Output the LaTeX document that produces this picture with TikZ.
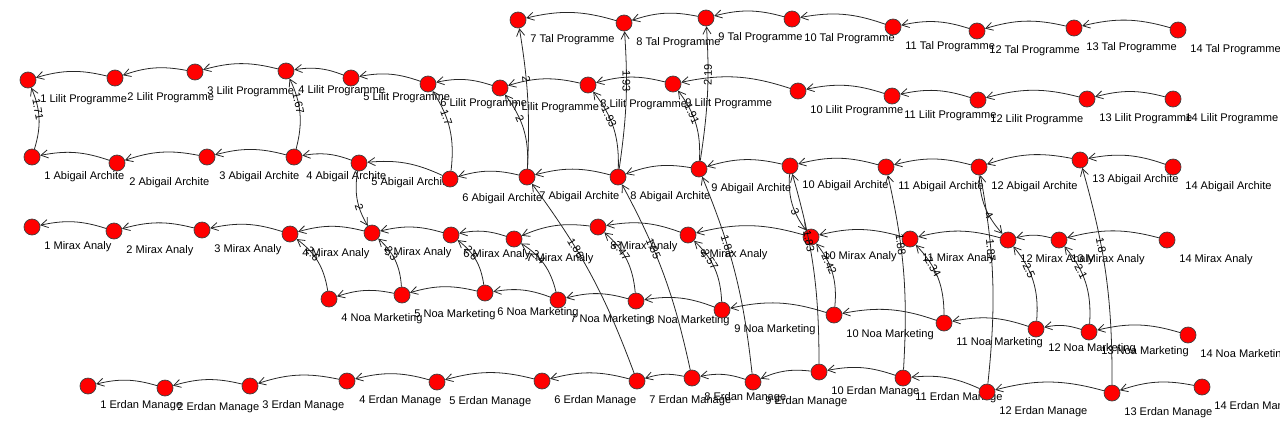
\documentclass[tikz,border=0pt]{standalone}
\usepackage{fontspec}
\setmainfont{Liberation Sans}
\usetikzlibrary{arrows.meta,positioning}

\tikzset{
  vtx/.style={circle,draw=black!75,fill=red,minimum size=0.32cm,inner sep=0pt,line width=0.4pt},
  vlbl/.style={anchor=west,inner sep=0pt,font=\fontsize{6.3}{7}\selectfont},
  arc/.style={draw=black!85,line width=0.45pt,-{Straight Barb[length=4pt,width=4.6pt]}},
  wt/.style={font=\fontsize{6.3}{7}\selectfont,sloped,inner sep=0.5pt,pos=0.65},
}

\begin{document}
\begin{tikzpicture}[x=0.02cm,y=0.02cm]
                \useasboundingbox (0,0) rectangle (1280,-433);

                \foreach \i/\x/\y in {7/518/20,8/624/23,9/706/18,10/792/19,11/893/27,12/977/31,13/1074/28,14/1178/30}{
                    \node[vtx] (T\i) at (\x,-\y) {};
                    \node[vlbl] (T\i-l) at ([shift={(12,-20)}]T\i) {\i\ Tal Programme};
                }
                \foreach \i/\x/\y in {1/28/80,2/115/78,3/195/72,4/286/71,5/351/78,6/428/84,7/500/88,8/588/85,9/673/84,10/798/91,11/892/96,12/978/100,13/1087/99,14/1173/99}{
                    \node[vtx] (L\i) at (\x,-\y) {};
                    \node[vlbl] (L\i-l) at ([shift={(12,-20)}]L\i) {\i\ Lilit Programme};
                }
                \foreach \i/\x/\y in {1/32/157,2/117/163,3/207/157,4/294/157,5/359/163,6/450/179,7/527/177,8/618/177,9/699/169,10/790/166,11/886/167,12/979/167,13/1080/160,14/1173/167}{
                    \node[vtx] (A\i) at (\x,-\y) {};
                    \node[vlbl] (A\i-l) at ([shift={(12,-20)}]A\i) {\i\ Abigail Archite};
                }
                \foreach \i/\x/\y in {1/32/227,2/114/231,3/202/230,4/290/234,5/372/233,6/451/235,7/514/239,8/598/227,9/688/235,10/811/237,11/910/239,12/1008/240,13/1059/240,14/1167/240}{
                    \node[vtx] (M\i) at (\x,-\y) {};
                    \node[vlbl] (M\i-l) at ([shift={(12,-20)}]M\i) {\i\ Mirax Analy};
                }
                \foreach \i/\x/\y in {4/329/299,5/402/295,6/485/293,7/558/300,8/636/301,9/722/310,10/834/315,11/944/323,12/1036/329,13/1089/332,14/1188/335}{
                    \node[vtx] (N\i) at (\x,-\y) {};
                    \node[vlbl] (N\i-l) at ([shift={(12,-20)}]N\i) {\i\ Noa Marketing};
                }
                \foreach \i/\x/\y in {1/88/386,2/165/388,3/250/386,4/347/381,5/437/382,6/542/381,7/637/381,8/692/378,9/753/382,10/819/372,11/903/378,12/987/392,13/1112/393,14/1202/387}{
                    \node[vtx] (E\i) at (\x,-\y) {};
                    \node[vlbl] (E\i-l) at ([shift={(12,-20)}]E\i) {\i\ Erdan Manage};
                }

                \foreach \i [count=\j from 7] in {8,...,14} \draw[arc] (T\i) to[bend right=15] (T\j);
                \foreach \i [count=\j from 1] in {2,...,14} \draw[arc] (L\i) to[bend right=15] (L\j);
                \foreach \i [count=\j from 1] in {2,...,14} \draw[arc] (A\i) to[bend right=15] (A\j);
                \foreach \i [count=\j from 1] in {2,...,14} \draw[arc] (M\i) to[bend right=15] (M\j);
                \foreach \i [count=\j from 4] in {5,...,14} \draw[arc] (N\i) to[bend right=15] (N\j);
                \foreach \i [count=\j from 1] in {2,...,14} \draw[arc] (E\i) to[bend right=15] (E\j);

                \draw[arc] (A1) to[bend right=20] node[wt] {1.71} (L1);
                \draw[arc] (A4) to[bend right=20] node[wt] {1.67} (L4);
                \draw[arc] (A6) to[bend right=20] node[wt] {1.7} (L6);
                \draw[arc] (A7) to[bend right=20] node[wt] {2} (L7);
                \draw[arc] (A8) to[bend right=20] node[wt] {1.93} (L8);
                \draw[arc] (A9) to[bend right=20] node[wt] {1.91} (L9);
                \draw[arc] (A7) to[bend right=6] node[wt] {2} (T7);
                \draw[arc] (A8) to[bend right=6] node[wt] {1.93} (T8);
                \draw[arc] (A9) to[bend right=6] node[wt] {2.19} (T9);

                \draw[arc] (A5) to[bend right=20] node[wt] {2} (M5);
                \draw[arc] (A10) to[bend right=20] node[wt] {3} (M10);
                \draw[arc] (A12) to[bend right=20] node[wt] {4} (M12);

                \draw[arc] (N4) to[bend right=22] node[wt] {2.6} (M4);
                \draw[arc] (N5) to[bend right=22] node[wt] {2.3} (M5);
                \draw[arc] (N6) to[bend right=22] node[wt] {2.6} (M6);
                \draw[arc] (N7) to[bend right=22] node[wt] {2.4} (M7);
                \draw[arc] (N8) to[bend right=22] node[wt] {2.47} (M8);
                \draw[arc] (N9) to[bend right=22] node[wt] {2.57} (M9);
                \draw[arc] (N10) to[bend right=22] node[wt] {2.42} (M10);
                \draw[arc] (N11) to[bend right=22] node[wt] {2.34} (M11);
                \draw[arc] (N12) to[bend right=22] node[wt] {2.5} (M12);
                \draw[arc] (N13) to[bend right=22] node[wt] {2.1} (M13);

                \draw[arc] (E7) to[bend right=8] node[wt] {1.86} (A7);
                \draw[arc] (E8) to[bend right=8] node[wt] {1.85} (A8);
                \draw[arc] (E9) to[bend right=8] node[wt] {1.81} (A9);
                \draw[arc] (E10) to[bend right=8] node[wt] {1.83} (A10);
                \draw[arc] (E11) to[bend right=8] node[wt] {1.88} (A11);
                \draw[arc] (E12) to[bend right=8] node[wt] {1.87} (A12);
                \draw[arc] (E13) to[bend right=8] node[wt] {1.8} (A13);
            \end{tikzpicture}
\end{document}
